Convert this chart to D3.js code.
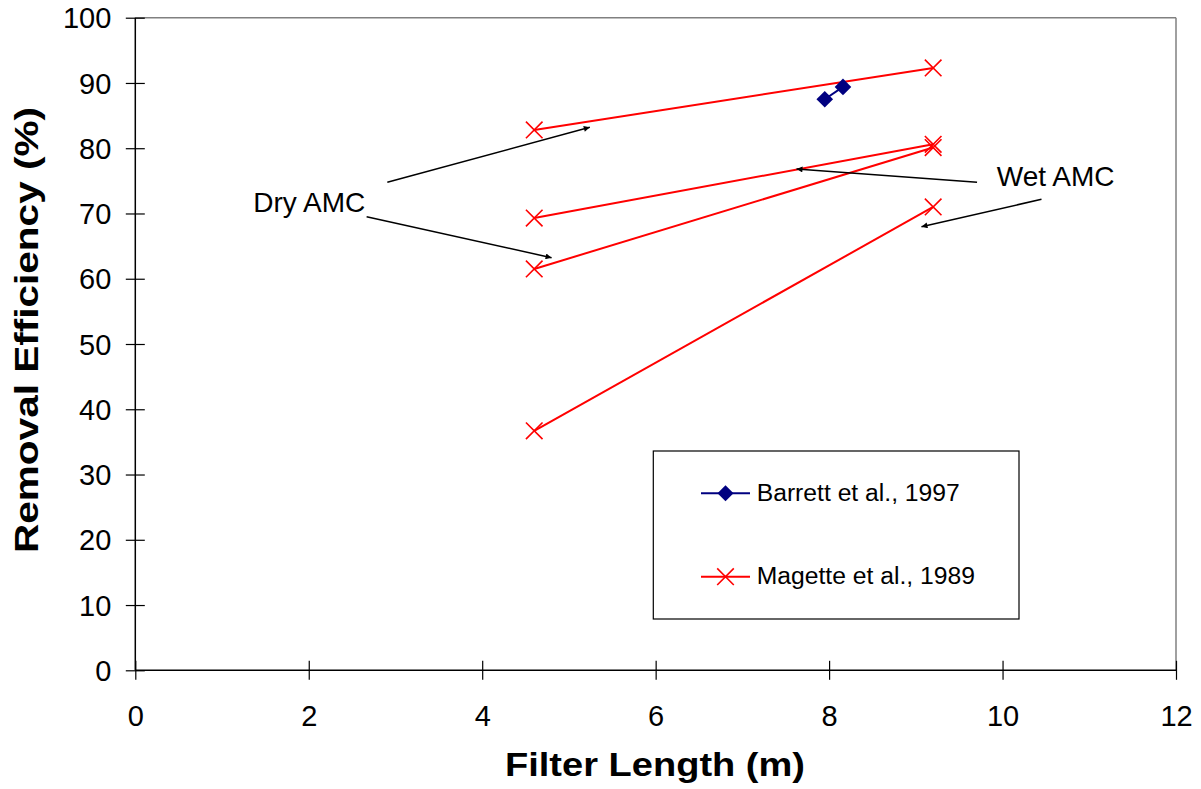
<!DOCTYPE html>
<html>
<head>
<meta charset="utf-8">
<script src="https://cdn.jsdelivr.net/npm/d3@7"></script>
<style>
  body { margin: 0; background: #fff; }
  svg { display: block; font-family: Arial, "Liberation Sans", sans-serif; }
</style>
</head>
<body>
<svg id="chart" width="1201" height="789"></svg>
<script>
// ---- Data ----
const xTicks = [0, 2, 4, 6, 8, 10, 12];
const yTicks = [0, 10, 20, 30, 40, 50, 60, 70, 80, 90, 100];

const barrettX = [7.95, 8.16];
const barrettY = [87.5, 89.4];

const magetteX = [4.6, 9.2];
const magetteY1 = [82.8, 92.3];
const magetteY2 = [69.3, 80.6];
const magetteY3 = [61.5, 80.1];
const magetteY4 = [36.7, 71.0];
const magetteSeries = [magetteY1, magetteY2, magetteY3, magetteY4];

const seriesNames = ["Barrett et al., 1997", "Magette et al., 1989"];

// annotations (data coordinates)
const annoLabels = ["Dry AMC", "Wet AMC"];
const annoLabelPos = [[1.36, 70.18], [9.933, 74.21]];
const arrows = [
  [[2.906, 74.78], [5.241, 83.21]],
  [[2.667, 69.51], [4.80, 63.22]],
  [[9.706, 74.78], [7.624, 76.82]],
  [[10.449, 72.17], [9.065, 67.97]]
];

// ---- Layout ----
const svg = d3.select("#chart");
const L = 135.3, R = 1176, T = 17.7, B = 670.3;
const x = d3.scaleLinear().domain([0, 12]).range([L, R]);
const y = d3.scaleLinear().domain([0, 100]).range([B, T]);

svg.append("defs").append("marker")
  .attr("id", "ah").attr("viewBox", "0 0 10 10")
  .attr("refX", 10).attr("refY", 5)
  .attr("markerWidth", 8).attr("markerHeight", 6)
  .attr("markerUnits", "userSpaceOnUse")
  .attr("orient", "auto")
  .append("path").attr("d", "M0,0 L10,5 L0,10 z").attr("fill", "#000");

// frame top & right (gray)
svg.append("line").attr("x1", L).attr("x2", R).attr("y1", T).attr("y2", T)
  .attr("stroke", "#808080").attr("stroke-width", 1.5);
svg.append("line").attr("x1", R).attr("x2", R).attr("y1", T).attr("y2", B)
  .attr("stroke", "#808080").attr("stroke-width", 1.5);

// axes
const xAxis = d3.axisBottom(x).tickValues(xTicks).tickSize(0).tickFormat(d3.format("d"));
const yAxis = d3.axisLeft(y).tickValues(yTicks).tickSize(0).tickFormat(d3.format("d"));

const gx = svg.append("g").attr("transform", `translate(0,${B})`).call(xAxis);
gx.select(".domain").remove();
gx.selectAll(".tick text").attr("dy", null).attr("y", 55.5)
  .attr("font-size", 29).attr("font-family", "Arial, 'Liberation Sans', sans-serif").attr("fill", "#000");
gx.selectAll(".tick").append("line").attr("y1", -9.5).attr("y2", 9.5)
  .attr("stroke", "#000").attr("stroke-width", 1.2);

const gy = svg.append("g").attr("transform", `translate(${L},0)`).call(yAxis);
gy.select(".domain").remove();
gy.selectAll(".tick text").attr("dy", "0.35em").attr("x", -24)
  .attr("font-size", 29).attr("font-family", "Arial, 'Liberation Sans', sans-serif").attr("fill", "#000");
gy.selectAll(".tick").append("line").attr("x1", -9.5).attr("x2", 9.5)
  .attr("stroke", "#000").attr("stroke-width", 1.2);

svg.append("line").attr("x1", L).attr("x2", R).attr("y1", B).attr("y2", B)
  .attr("stroke", "#000").attr("stroke-width", 1.5);
svg.append("line").attr("x1", L).attr("x2", L).attr("y1", T).attr("y2", B)
  .attr("stroke", "#000").attr("stroke-width", 1.5);

// axis titles
svg.append("text").attr("x", 505).attr("y", 776)
  .attr("textLength", 300).attr("lengthAdjust", "spacingAndGlyphs")
  .attr("font-size", 34).attr("font-weight", "bold").text("Filter Length (m)");
svg.append("text").attr("transform", "translate(38,553) rotate(-90)")
  .attr("textLength", 446).attr("lengthAdjust", "spacingAndGlyphs")
  .attr("font-size", 34).attr("font-weight", "bold")
  .text("Removal Efficiency (%)");

const red = "#FF0000", navy = "#000080";
const line = d3.line().x(d => x(d[0])).y(d => y(d[1]));

function xMark(g, cx, cy, s) {
  g.append("path")
    .attr("d", `M${cx - s},${cy - s}L${cx + s},${cy + s}M${cx - s},${cy + s}L${cx + s},${cy - s}`)
    .attr("stroke", red).attr("stroke-width", 1.6).attr("fill", "none");
}
function diamond(g, cx, cy, s) {
  g.append("path")
    .attr("d", `M${cx},${cy - s}L${cx + s},${cy}L${cx},${cy + s}L${cx - s},${cy}Z`)
    .attr("fill", navy);
}

// Magette series
const gm = svg.append("g");
magetteSeries.forEach(ys => {
  const pts = magetteX.map((xv, i) => [xv, ys[i]]);
  gm.append("path").attr("d", line(pts)).attr("stroke", red).attr("stroke-width", 2).attr("fill", "none");
  pts.forEach(p => xMark(gm, x(p[0]), y(p[1]), 8.3));
});

// Barrett series
const gb = svg.append("g");
const bpts = barrettX.map((xv, i) => [xv, barrettY[i]]);
gb.append("path").attr("d", line(bpts)).attr("stroke", navy).attr("stroke-width", 2).attr("fill", "none");
bpts.forEach(p => diamond(gb, x(p[0]), y(p[1]), 8.3));

// annotations
annoLabels.forEach((t, i) => {
  svg.append("text").attr("x", x(annoLabelPos[i][0])).attr("y", y(annoLabelPos[i][1]))
    .attr("font-size", 28).attr("fill", "#000").text(t);
});
arrows.forEach(a => {
  svg.append("line")
    .attr("x1", x(a[0][0])).attr("y1", y(a[0][1]))
    .attr("x2", x(a[1][0])).attr("y2", y(a[1][1]))
    .attr("stroke", "#000").attr("stroke-width", 1.5)
    .attr("marker-end", "url(#ah)");
});

// legend
const lg = svg.append("g");
lg.append("rect").attr("x", 653.3).attr("y", 451).attr("width", 365.7).attr("height", 168)
  .attr("fill", "#fff").attr("stroke", "#000").attr("stroke-width", 1.2);
const legY = [493.3, 576.7];
seriesNames.forEach((n, i) => {
  const c = i === 0 ? navy : red;
  lg.append("line").attr("x1", 701).attr("x2", 750).attr("y1", legY[i]).attr("y2", legY[i])
    .attr("stroke", c).attr("stroke-width", 2);
  if (i === 0) diamond(lg, 725.5, legY[i], 8); else xMark(lg, 725.5, legY[i], 8.3);
  lg.append("text").attr("x", 756.7).attr("y", legY[i] + 7.5).attr("font-size", 24.7)
    .attr("fill", "#000").text(n);
});
</script>
</body>
</html>
